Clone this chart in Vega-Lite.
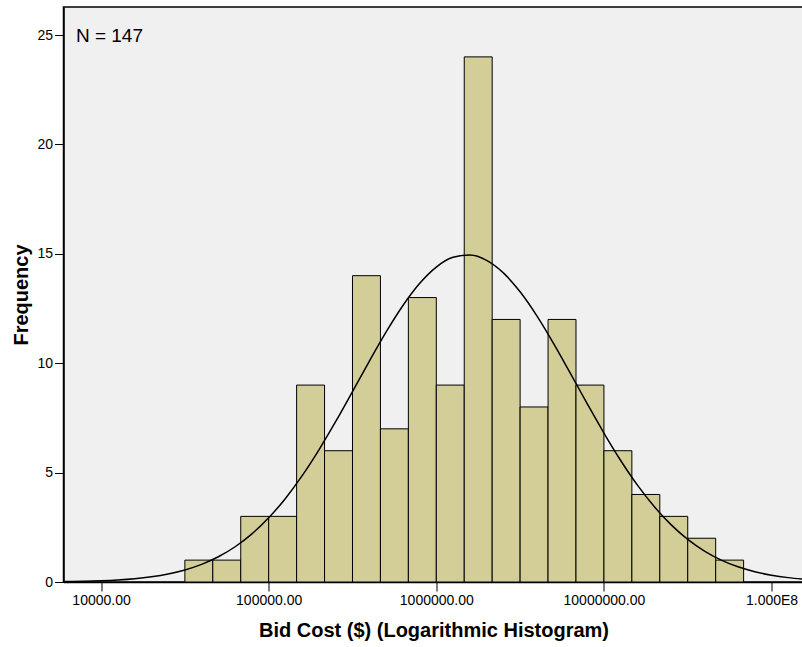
{
  "$schema": "https://vega.github.io/schema/vega-lite/v6.json",
  "autosize": "none",
  "width": 740,
  "height": 575,
  "padding": {"left": 63.5, "top": 7, "right": 0, "bottom": 65},
  "background": "white",
  "config": {
    "font": "Liberation Sans",
    "view": {"fill": "#F0F0F0", "stroke": "black", "strokeWidth": 1.5},
    "axis": {
      "grid": false,
      "domainColor": "black",
      "tickColor": "black",
      "labelColor": "black",
      "titleColor": "black",
      "labelFont": "Liberation Sans",
      "titleFont": "Liberation Sans",
      "labelFontSize": 14,
      "titleFontSize": 20,
      "titleFontWeight": "bold",
      "tickSize": 9,
      "labelPadding": 2
    }
  },
  "datasets": {
    "bins": [
      {"lo": 31623, "hi": 46416, "count": 1},
      {"lo": 46416, "hi": 68129, "count": 1},
      {"lo": 68129, "hi": 100000, "count": 3},
      {"lo": 100000, "hi": 146780, "count": 3},
      {"lo": 146780, "hi": 215443, "count": 9},
      {"lo": 215443, "hi": 316228, "count": 6},
      {"lo": 316228, "hi": 464159, "count": 14},
      {"lo": 464159, "hi": 681292, "count": 7},
      {"lo": 681292, "hi": 1000000, "count": 13},
      {"lo": 1000000, "hi": 1467799, "count": 9},
      {"lo": 1467799, "hi": 2154435, "count": 24},
      {"lo": 2154435, "hi": 3162278, "count": 12},
      {"lo": 3162278, "hi": 4641589, "count": 8},
      {"lo": 4641589, "hi": 6812921, "count": 12},
      {"lo": 6812921, "hi": 10000000, "count": 9},
      {"lo": 10000000, "hi": 14677993, "count": 6},
      {"lo": 14677993, "hi": 21544347, "count": 4},
      {"lo": 21544347, "hi": 31622777, "count": 3},
      {"lo": 31622777, "hi": 46415888, "count": 2},
      {"lo": 46415888, "hi": 68129207, "count": 1}
    ],
    "curve": [
      {"cost": 5970, "freq": 0.017},
      {"cost": 6310, "freq": 0.020},
      {"cost": 7943, "freq": 0.034},
      {"cost": 10000, "freq": 0.058},
      {"cost": 12589, "freq": 0.095},
      {"cost": 15849, "freq": 0.152},
      {"cost": 19953, "freq": 0.240},
      {"cost": 25119, "freq": 0.367},
      {"cost": 31623, "freq": 0.551},
      {"cost": 39811, "freq": 0.806},
      {"cost": 50119, "freq": 1.153},
      {"cost": 63096, "freq": 1.611},
      {"cost": 79433, "freq": 2.199},
      {"cost": 100000, "freq": 2.933},
      {"cost": 125893, "freq": 3.820},
      {"cost": 158489, "freq": 4.862},
      {"cost": 199526, "freq": 6.043},
      {"cost": 251189, "freq": 7.337},
      {"cost": 316228, "freq": 8.704},
      {"cost": 398107, "freq": 10.087},
      {"cost": 501187, "freq": 11.419},
      {"cost": 630957, "freq": 12.627},
      {"cost": 794328, "freq": 13.640},
      {"cost": 1000000, "freq": 14.394},
      {"cost": 1258925, "freq": 14.838},
      {"cost": 1584893, "freq": 14.943},
      {"cost": 1995262, "freq": 14.700},
      {"cost": 2511886, "freq": 14.128},
      {"cost": 3162278, "freq": 13.262},
      {"cost": 3981072, "freq": 12.163},
      {"cost": 5011872, "freq": 10.896},
      {"cost": 6309573, "freq": 9.536},
      {"cost": 7943282, "freq": 8.152},
      {"cost": 10000000, "freq": 6.808},
      {"cost": 12589254, "freq": 5.554},
      {"cost": 15848932, "freq": 4.427},
      {"cost": 19952623, "freq": 3.447},
      {"cost": 25118864, "freq": 2.622},
      {"cost": 31622777, "freq": 1.948},
      {"cost": 39810717, "freq": 1.414},
      {"cost": 50118723, "freq": 1.002},
      {"cost": 63095734, "freq": 0.694},
      {"cost": 79432823, "freq": 0.470},
      {"cost": 100000000, "freq": 0.310},
      {"cost": 125892541, "freq": 0.200},
      {"cost": 155100000, "freq": 0.130}
    ]
  },
  "layer": [
    {
      "data": {"name": "bins"},
      "mark": {"type": "rect", "fill": "#D3CE98", "stroke": "black", "strokeWidth": 1},
      "encoding": {
        "x": {
          "field": "lo",
          "type": "quantitative",
          "scale": {"type": "log", "domain": [5970, 155100000], "nice": false},
          "axis": {
            "values": [10000, 100000, 1000000, 10000000, 100000000],
            "labelExpr": "datum.value >= 100000000 ? '1.000E8' : format(datum.value, '.2f')",
            "title": "Bid Cost ($) (Logarithmic Histogram)",
            "titlePadding": 13,
            "domainWidth": 1.5
          }
        },
        "x2": {"field": "hi"},
        "y": {
          "field": "count",
          "type": "quantitative",
          "scale": {"domain": [0, 26.28], "nice": false, "zero": true},
          "axis": {
            "values": [0, 5, 10, 15, 20, 25],
            "title": "Frequency",
            "titlePadding": 5,
            "domainWidth": 1.5
          }
        },
        "y2": {"datum": 0}
      }
    },
    {
      "data": {"name": "curve"},
      "mark": {"type": "line", "color": "black", "strokeWidth": 1.5, "interpolate": "monotone", "clip": true},
      "encoding": {
        "x": {"field": "cost", "type": "quantitative"},
        "y": {"field": "freq", "type": "quantitative"}
      }
    },
    {
      "data": {"values": [{"label": "N = 147"}]},
      "mark": {"type": "text", "align": "left", "baseline": "alphabetic", "fontSize": 19, "font": "Liberation Sans", "color": "black"},
      "encoding": {
        "text": {"field": "label"},
        "x": {"datum": 7079},
        "y": {"datum": 24.68}
      }
    }
  ]
}
